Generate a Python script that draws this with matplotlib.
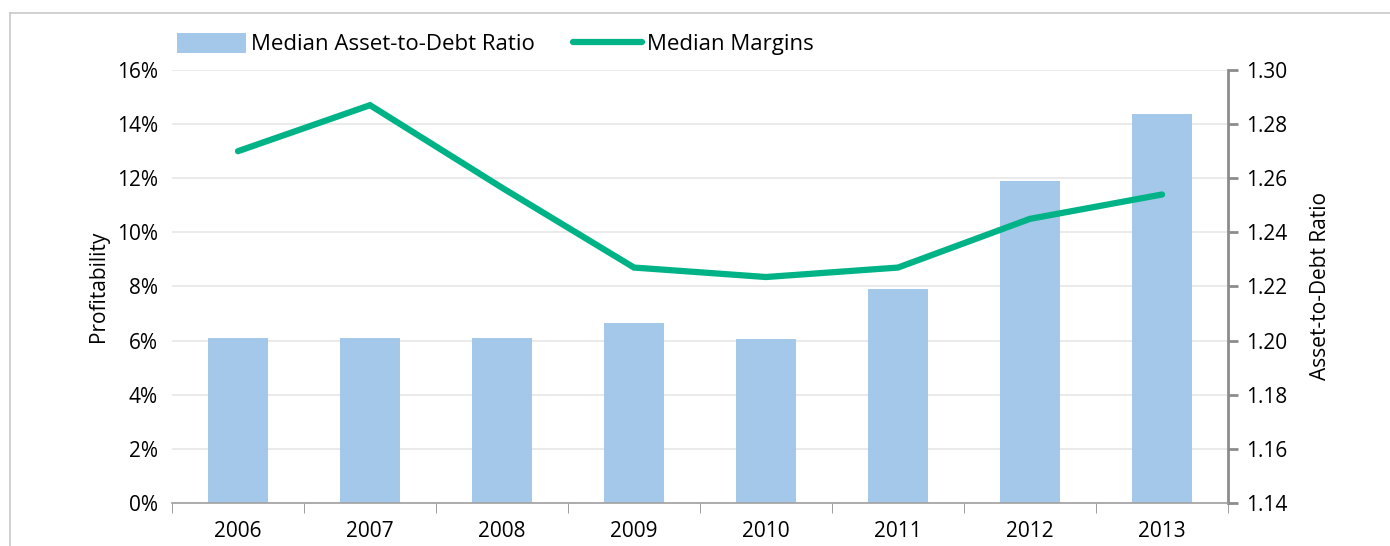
#!/usr/bin/env python3
import matplotlib
matplotlib.use("Agg")
import matplotlib.pyplot as plt
import numpy as np
from matplotlib.lines import Line2D
from matplotlib.ticker import FuncFormatter

# Data
years = ["2006", "2007", "2008", "2009", "2010", "2011", "2012", "2013"]
asset_to_debt = [1.201, 1.201, 1.201, 1.2065, 1.2005, 1.219, 1.259, 1.2837]
margins = [13.0, 14.7, 11.65, 8.7, 8.35, 8.7, 10.5, 11.4]

bar_color = "#a3c8ea"
line_color = "#00b386"
axis_gray = "#8c8c8c"

plt.rcParams["font.family"] = ["Open Sans", "DejaVu Sans"]
plt.rcParams["font.size"] = 15

fig = plt.figure(figsize=(13.9, 5.46), dpi=100)
W, H = 1390, 546
ax = fig.add_axes([172 / W, 1 - 503 / H, (1228 - 172) / W, (503 - 70) / H])
ax2 = ax.twinx()

x = np.arange(len(years))

# bars on right axis (drawn behind)
ax2.bar(x, [v - 1.14 for v in asset_to_debt], bottom=1.14, width=0.45,
        color=bar_color, zorder=2, label="Median Asset-to-Debt Ratio")
ax2.set_ylim(1.14, 1.30)
ax2.set_yticks(np.arange(1.14, 1.3001, 0.02))
ax2.yaxis.set_major_formatter(FuncFormatter(lambda v, p: f"{v:.2f}"))
ax2.grid(axis="y", color="#e6e6e6", linewidth=1.2, zorder=0)
ax2.set_axisbelow(True)
ax2.set_ylabel("Asset-to-Debt Ratio", fontsize=15, rotation=90, labelpad=16)

# line on left axis (on top)
ax.set_zorder(ax2.get_zorder() + 1)
ax.patch.set_visible(False)
ax.plot(x, margins, color=line_color, linewidth=4.5, solid_capstyle="round",
        solid_joinstyle="miter", zorder=5, label="Median Margins")
ax.set_ylim(0, 16)
ax.set_yticks(np.arange(0, 17, 2))
ax.yaxis.set_major_formatter(FuncFormatter(lambda v, p: f"{v:.0f}%"))
ax.set_ylabel("Profitability", fontsize=15, labelpad=6)

ax.set_xlim(-0.5, len(years) - 0.5)
ax.set_xticks(x)
ax.set_xticklabels(years)
ax.set_xticks(np.arange(-0.5, len(years), 1.0), minor=True)
ax.tick_params(axis="x", which="major", length=0, pad=13)
ax.tick_params(axis="x", which="minor", length=7, color=axis_gray, direction="out")
ax.tick_params(axis="y", length=0, pad=10)
ax2.tick_params(axis="y", length=7, width=2, color=axis_gray, direction="out", pad=6)

for a in (ax, ax2):
    for s in ("top", "left", "right", "bottom"):
        a.spines[s].set_visible(False)
ax.spines["bottom"].set_visible(True)
ax.spines["bottom"].set_color("#a0a0a0")
ax.spines["bottom"].set_linewidth(1.2)
ax2.spines["right"].set_visible(True)
ax2.spines["right"].set_color(axis_gray)
ax2.spines["right"].set_linewidth(2)

# legend across the top
h1, l1 = ax2.get_legend_handles_labels()
h2, l2 = ax.get_legend_handles_labels()
fig.legend(h1 + h2, l1 + l2, loc="upper left", bbox_to_anchor=(168 / W, 1 - 24 / H),
           ncol=2, frameon=False, fontsize=16, handlelength=3.1, handleheight=1.0,
           handletextpad=0.25, columnspacing=1.7, borderaxespad=0)

# thin frame around the chart
fig.add_artist(Line2D([10 / W, 1.0], [1 - 13 / H, 1 - 13 / H], color="#c8c8c8", linewidth=1.2))
fig.add_artist(Line2D([10 / W, 10 / W], [0, 1 - 13 / H], color="#c8c8c8", linewidth=1.2))

fig.savefig("out.png", dpi=100)
